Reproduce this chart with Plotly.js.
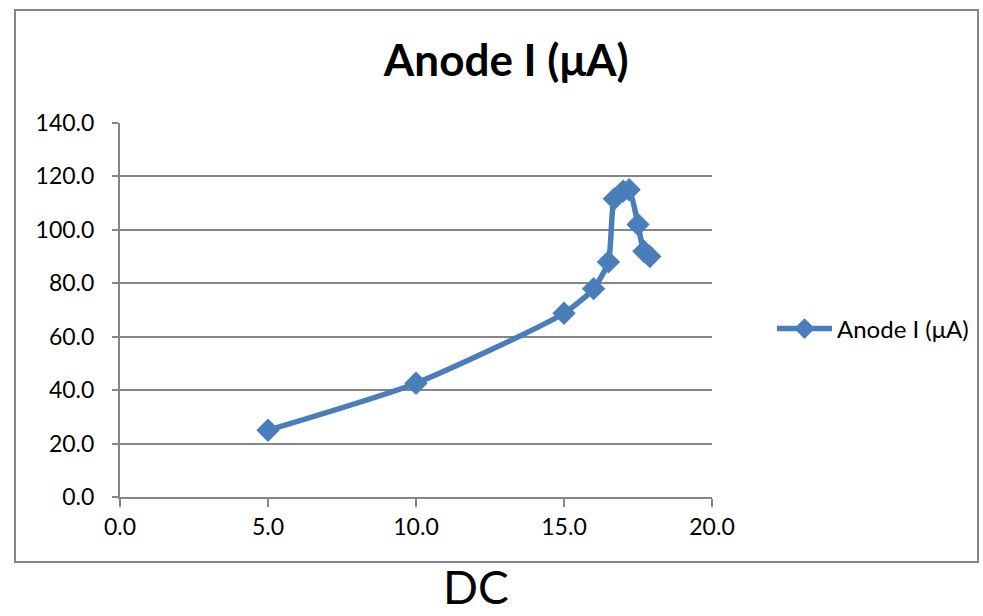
<!DOCTYPE html>
<html>
<head>
<meta charset="utf-8">
<script src="https://cdn.plot.ly/plotly-3.0.1.min.js"></script>
<style>html,body{margin:0;padding:0;background:#fff;}#chart{width:983px;height:616px;}</style>
</head>
<body>
<div id="chart"></div>
<script>
// Data
var dcValues = [5.0, 10.0, 15.0, 16.0, 16.5, 16.7, 17.0, 17.2, 17.5, 17.7, 17.9];
var anodeCurrent = [25.0, 42.6, 68.8, 78.0, 88.0, 111.6, 114.5, 115.0, 102.0, 92.0, 90.0];
var seriesName = 'Anode I (\u03bcA)';
var chartTitle = 'Anode I (\u03bcA)';
var xLabel = 'DC';

var FONT = 'Lato, "Noto Sans", sans-serif';
var BLUE = '#4A7EBB';
var GRID = '#868686';

var trace = {
  x: dcValues,
  y: anodeCurrent,
  name: seriesName,
  type: 'scatter',
  mode: 'lines+markers',
  line: {color: BLUE, width: 5.5, shape: 'spline', smoothing: 0.6},
  marker: {symbol: 'diamond', size: 18, color: BLUE},
  showlegend: true
};

var layout = {
  width: 983,
  height: 616,
  margin: {l: 120, r: 271, t: 123, b: 119, autoexpand: false},
  paper_bgcolor: '#ffffff',
  plot_bgcolor: '#ffffff',
  font: {family: FONT, color: '#000000', size: 23},
  title: {
    text: '<b>' + chartTitle + '</b>',
    font: {family: FONT, size: 44, color: '#000000'},
    x: 0.515, xref: 'container', xanchor: 'center',
    y: 1 - 61 / 616, yref: 'container', yanchor: 'middle'
  },
  xaxis: {
    range: [0, 20],
    dtick: 5,
    tick0: 0,
    tickformat: '.1f',
    showgrid: false,
    zeroline: false,
    showline: true,
    linecolor: GRID,
    linewidth: 2,
    ticks: 'outside',
    ticklen: 8,
    tickwidth: 2,
    tickcolor: GRID,
    tickfont: {family: FONT, size: 23, color: '#000000'},
    automargin: false,
    fixedrange: true
  },
  yaxis: {
    range: [0, 140],
    dtick: 20,
    tick0: 0,
    tickformat: '.1f',
    showgrid: true,
    gridcolor: GRID,
    gridwidth: 2,
    zeroline: false,
    showline: true,
    linecolor: GRID,
    linewidth: 2,
    ticks: 'outside',
    ticklen: 6,
    tickwidth: 2,
    tickcolor: GRID,
    ticklabelstandoff: 13,
    tickfont: {family: FONT, size: 23, color: '#000000'},
    automargin: false,
    fixedrange: true
  },
  legend: {
    x: (772 - 120) / 592,
    xanchor: 'left',
    y: (497 - 329) / 374,
    yanchor: 'middle',
    itemwidth: 55,
    font: {family: FONT, size: 24, color: '#000000'},
    bgcolor: 'rgba(0,0,0,0)',
    borderwidth: 0
  },
  shapes: [{
    type: 'rect', xref: 'paper', yref: 'paper',
    x0: (15 - 120) / 592, x1: (978 - 120) / 592,
    y0: (497 - 562) / 374, y1: (497 - 10) / 374,
    line: {color: GRID, width: 2},
    fillcolor: 'rgba(0,0,0,0)',
    layer: 'below'
  }],
  annotations: [{
    text: xLabel,
    xref: 'paper', yref: 'paper',
    x: (476 - 120) / 592, y: (497 - 586) / 374,
    xanchor: 'center', yanchor: 'middle',
    showarrow: false,
    font: {family: FONT, size: 46, color: '#000000'}
  }]
};

Plotly.newPlot('chart', [trace], layout, {displayModeBar: false, staticPlot: true});
</script>
</body>
</html>
